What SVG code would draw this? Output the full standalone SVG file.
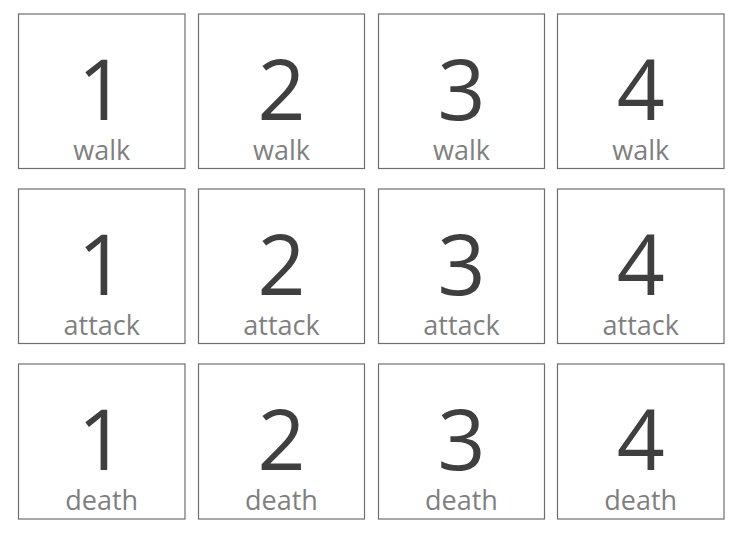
<svg xmlns="http://www.w3.org/2000/svg" width="743" height="533" viewBox="0 0 743 533">
<style>
.box{fill:#fff;stroke:#6e6e6e;stroke-width:1.2}
.num{font-family:"Open Sans","Liberation Sans",sans-serif;font-size:84px;fill:#3f3f3f;text-anchor:middle}
.lbl{font-family:"Open Sans","Liberation Sans",sans-serif;font-size:27px;fill:#7f7f7f;text-anchor:middle}
</style>
<rect width="743" height="533" fill="#fff"/>
<g id="walk-1"><rect class="box" x="18.5" y="14" width="166.5" height="154.5"/><text class="num" x="101.75" y="120">1</text><text class="lbl" x="101.75" y="160">walk</text></g>
<g id="walk-2"><rect class="box" x="198.5" y="14" width="166" height="154.5"/><text class="num" x="281.5" y="120">2</text><text class="lbl" x="281.5" y="160">walk</text></g>
<g id="walk-3"><rect class="box" x="378.5" y="14" width="166" height="154.5"/><text class="num" x="461.5" y="120">3</text><text class="lbl" x="461.5" y="160">walk</text></g>
<g id="walk-4"><rect class="box" x="557.5" y="14" width="166.5" height="154.5"/><text class="num" x="640.75" y="120">4</text><text class="lbl" x="640.75" y="160">walk</text></g>
<g id="attack-1"><rect class="box" x="18.5" y="189" width="166.5" height="154.5"/><text class="num" x="101.75" y="295">1</text><text class="lbl" x="101.75" y="335">attack</text></g>
<g id="attack-2"><rect class="box" x="198.5" y="189" width="166" height="154.5"/><text class="num" x="281.5" y="295">2</text><text class="lbl" x="281.5" y="335">attack</text></g>
<g id="attack-3"><rect class="box" x="378.5" y="189" width="166" height="154.5"/><text class="num" x="461.5" y="295">3</text><text class="lbl" x="461.5" y="335">attack</text></g>
<g id="attack-4"><rect class="box" x="557.5" y="189" width="166.5" height="154.5"/><text class="num" x="640.75" y="295">4</text><text class="lbl" x="640.75" y="335">attack</text></g>
<g id="death-1"><rect class="box" x="18.5" y="364" width="166.5" height="155"/><text class="num" x="101.75" y="470">1</text><text class="lbl" x="101.75" y="510">death</text></g>
<g id="death-2"><rect class="box" x="198.5" y="364" width="166" height="155"/><text class="num" x="281.5" y="470">2</text><text class="lbl" x="281.5" y="510">death</text></g>
<g id="death-3"><rect class="box" x="378.5" y="364" width="166" height="155"/><text class="num" x="461.5" y="470">3</text><text class="lbl" x="461.5" y="510">death</text></g>
<g id="death-4"><rect class="box" x="557.5" y="364" width="166.5" height="155"/><text class="num" x="640.75" y="470">4</text><text class="lbl" x="640.75" y="510">death</text></g>
<g id="connectors"/>
</svg>
